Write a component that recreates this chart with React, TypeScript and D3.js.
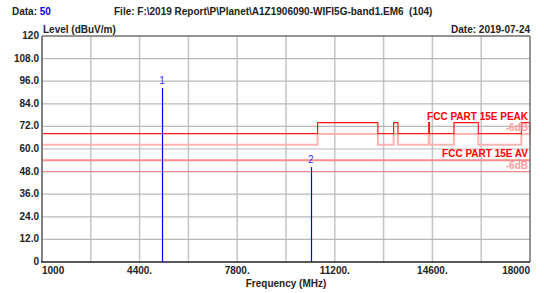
import React, { useEffect, useRef } from 'react';
import * as d3 from 'd3';

// frequency axis (MHz)
const xTickValues = [1000, 4400, 7800, 11200, 14600, 18000];
const xTickLabels = ['1000', '4400.', '7800.', '11200.', '14600.', '18000'];
const yTickValues = [0, 12, 24, 36, 48, 60, 72, 84, 96, 108, 120];
const yTickLabels = ['0', '12.0', '24.0', '36.0', '48.0', '60.0', '72.0', '84.0', '96.0', '108.0', '120'];

// restricted bands where the peak limit steps up
const restrictedBands = [[10600, 12700], [13250, 13400], [14470, 14500], [15350, 16200], [17700, 18000]];
const peakLimitBase = 68.2;
const peakLimitRestricted = 74.0;
const avLimit = 54.0;

// measured markers
const markerNames = ['1', '2'];
const markerFreqs = [5180, 10360];
const markerLevels = [92.4, 50.4];

const FONT = 'Arial, "Liberation Sans", sans-serif';

const App = () => {
  const svgRef = useRef<SVGSVGElement>(null);

  useEffect(() => {
    const width = 544;
    const height = 293;
    const margin = { top: 36, right: 14, bottom: 31, left: 42 };

    const svg = d3.select(svgRef.current).attr('width', width).attr('height', height);
    svg.selectAll('*').remove();

    const x = d3.scaleLinear().domain([1000, 18000]).range([margin.left, width - margin.right]);
    const y = d3.scaleLinear().domain([0, 120]).range([height - margin.bottom, margin.top]);

    // grid
    const grid = svg.append('g');
    grid.selectAll('.vg')
      .data(d3.range(1000 + 1700, 18000, 1700))
      .join('line')
      .attr('x1', d => x(d)).attr('x2', d => x(d))
      .attr('y1', y(120)).attr('y2', y(0))
      .attr('stroke', '#c4c4c4').attr('stroke-width', 1.5);
    grid.selectAll('.hg')
      .data(yTickValues.slice(1, -1))
      .join('line')
      .attr('x1', x(1000)).attr('x2', x(18000))
      .attr('y1', d => y(d)).attr('y2', d => y(d))
      .attr('stroke', '#b8b8b8').attr('stroke-width', 1.2);

    // limit lines
    const stepPoints = (base: number, high: number) => {
      const pts: [number, number][] = [[1000, base]];
      restrictedBands.forEach(([a, b]) => {
        pts.push([a, base], [a, high], [b, high], [b, base]);
      });
      if (pts[pts.length - 1][0] < 18000) pts.push([18000, base]);
      return pts.filter(p => p[0] <= 18000);
    };
    const line = d3.line<[number, number]>().x(d => x(d[0])).y(d => y(d[1]));

    svg.append('path')
      .datum(stepPoints(peakLimitBase - 6, peakLimitRestricted - 6))
      .attr('fill', 'none').attr('stroke', '#ffb4b4').attr('stroke-width', 2)
      .attr('d', line);
    svg.append('path')
      .datum([[1000, avLimit - 6], [18000, avLimit - 6]] as [number, number][])
      .attr('fill', 'none').attr('stroke', '#ff8080').attr('stroke-width', 1)
      .attr('d', line);
    svg.append('path')
      .datum([[1000, avLimit], [18000, avLimit]] as [number, number][])
      .attr('fill', 'none').attr('stroke', '#ff8c8c').attr('stroke-width', 2)
      .attr('d', line);
    svg.append('path')
      .datum(stepPoints(peakLimitBase, peakLimitRestricted))
      .attr('fill', 'none').attr('stroke', '#ff1a1a').attr('stroke-width', 1.2)
      .attr('d', line);

    // frame
    svg.append('line')
      .attr('x1', x(1000)).attr('x2', x(18000)).attr('y1', y(120)).attr('y2', y(120))
      .attr('stroke', '#707070').attr('stroke-width', 1.5);
    svg.append('line')
      .attr('x1', x(18000)).attr('x2', x(18000)).attr('y1', y(120)).attr('y2', y(0))
      .attr('stroke', '#707070').attr('stroke-width', 1.5);
    svg.append('line')
      .attr('x1', x(1000)).attr('x2', x(1000)).attr('y1', y(120)).attr('y2', y(0))
      .attr('stroke', '#808080').attr('stroke-width', 2);
    svg.append('line')
      .attr('x1', x(1000) - 1).attr('x2', x(18000)).attr('y1', y(0)).attr('y2', y(0))
      .attr('stroke', '#202020').attr('stroke-width', 1.5);

    // markers
    const mk = svg.append('g');
    mk.selectAll('line')
      .data(markerFreqs)
      .join('line')
      .attr('x1', d => Math.round(x(d)) + 0.5).attr('x2', d => Math.round(x(d)) + 0.5)
      .attr('y1', (d, i) => y(markerLevels[i])).attr('y2', y(0))
      .attr('stroke', '#0000ff').attr('stroke-width', 1.2);
    mk.selectAll('text')
      .data(markerFreqs)
      .join('text')
      .attr('x', d => x(d))
      .attr('y', (d, i) => y(markerLevels[i]) - 4)
      .attr('text-anchor', 'middle')
      .attr('font-family', FONT).attr('font-size', 10)
      .attr('fill', '#3333ff')
      .text((d, i) => markerNames[i]);

    // limit labels
    const lbl = svg.append('g')
      .attr('font-family', FONT).attr('font-weight', 'bold').attr('font-size', 10)
      .attr('text-anchor', 'end');
    const rx = x(18000) - 2;
    lbl.append('text').attr('x', rx).attr('y', y(peakLimitRestricted) - 3).attr('fill', '#ff0000').text('FCC PART 15E PEAK');
    lbl.append('text').attr('x', rx).attr('y', y(peakLimitBase) - 3).attr('fill', '#ff9a9a').text('-6dB');
    lbl.append('text').attr('x', rx).attr('y', y(avLimit) - 3).attr('fill', '#ff0000').text('FCC PART 15E AV');
    lbl.append('text').attr('x', rx).attr('y', y(avLimit - 6) - 3).attr('fill', '#ff9a9a').text('-6dB');

    // axis labels
    const ax = svg.append('g')
      .attr('font-family', FONT).attr('font-weight', 'bold').attr('font-size', 10).attr('fill', '#222');
    ax.selectAll('.yl')
      .data(yTickValues)
      .join('text')
      .attr('x', x(1000) - 3)
      .attr('y', d => y(d) + 3)
      .attr('text-anchor', 'end')
      .text((d, i) => yTickLabels[i]);
    ax.selectAll('.xl')
      .data(xTickValues)
      .join('text')
      .attr('x', d => x(d))
      .attr('y', y(0) + 12)
      .attr('text-anchor', (d, i) => (i === 0 ? 'start' : i === xTickValues.length - 1 ? 'end' : 'middle'))
      .text((d, i) => xTickLabels[i]);
    ax.append('text')
      .attr('x', (x(1000) + x(18000)) / 2).attr('y', height - 6)
      .attr('text-anchor', 'middle').text('Frequency (MHz)');
    ax.append('text').attr('x', 43).attr('y', 33).text('Level (dBuV/m)');
    ax.append('text').attr('x', x(18000)).attr('y', 33).attr('text-anchor', 'end').text('Date: 2019-07-24');
    const t = ax.append('text').attr('x', 12).attr('y', 15);
    t.append('tspan').text('Data: ');
    t.append('tspan').attr('fill', '#0000ff').text('50');
    ax.append('text').attr('x', 114).attr('y', 15)
      .text('File: F:\\2019 Report\\P\\Planet\\A1Z1906090-WIFI5G-band1.EM6  (104)')
      .attr('xml:space', 'preserve');
  }, []);

  return (
    <svg ref={svgRef} style={{ position: 'absolute', left: 0, top: 0, background: '#fff' }}></svg>
  );
};

export default App;
